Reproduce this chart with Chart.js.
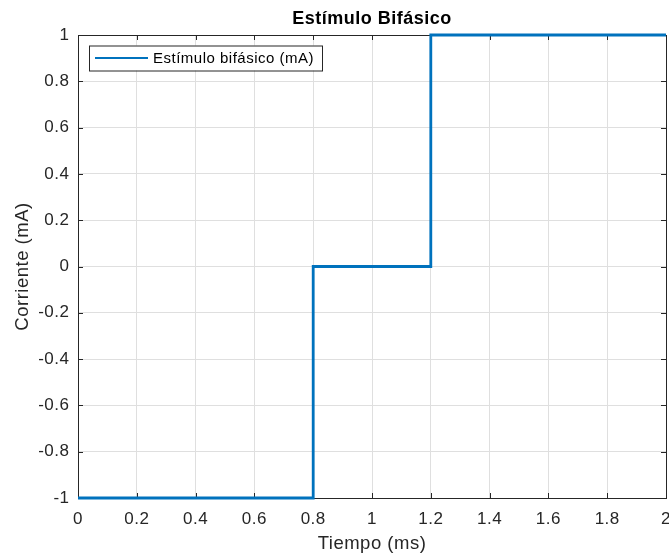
<!DOCTYPE html>
<html lang="es">
<head>
<meta charset="utf-8">
<title>Estímulo Bifásico</title>
<script src="https://cdn.jsdelivr.net/npm/chart.js@4.4.1/dist/chart.umd.min.js"></script>
<style>
  html, body { margin: 0; padding: 0; background: #fff; overflow: hidden; }
  canvas { display: block; }
</style>
</head>
<body>
<canvas id="estimulo" width="669" height="555"></canvas>
<script>
// Pulso bifásico: tiempo (ms) y corriente (mA) en cada cambio de nivel
const tiempo = [0, 0.8, 1.2, 2];
const corriente = [-1, 0, 1, 1];
const ticksX = [0, 0.2, 0.4, 0.6, 0.8, 1, 1.2, 1.4, 1.6, 1.8, 2];
const ticksY = [-1, -0.8, -0.6, -0.4, -0.2, 0, 0.2, 0.4, 0.6, 0.8, 1];

const ejeColor = '#262626', gridColor = '#dfdfdf', azul = '#0072bd';
const family = '"Liberation Sans", Arial, Helvetica, sans-serif';

// texto un poco más abierto, como en las figuras de MATLAB
const espaciado = {
  id: 'espaciado',
  beforeLayout(chart) { chart.ctx.letterSpacing = '0.5px'; },
  beforeDraw(chart) { chart.ctx.letterSpacing = '0.5px'; }
};

// caja de ejes con marcas hacia dentro
const cajaEjes = {
  id: 'cajaEjes',
  beforeDatasetsDraw(chart) {
    const { ctx, chartArea: a, scales: { x, y } } = chart;
    ctx.save();
    ctx.strokeStyle = ejeColor;
    ctx.lineWidth = 1;
    ctx.beginPath();
    x.ticks.forEach((t) => {
      const px = Math.round(x.getPixelForValue(t.value)) + 0.5;
      ctx.moveTo(px, a.bottom); ctx.lineTo(px, a.bottom - 5);
      ctx.moveTo(px, a.top); ctx.lineTo(px, a.top + 5);
    });
    y.ticks.forEach((t) => {
      const py = Math.round(y.getPixelForValue(t.value)) + 0.5;
      ctx.moveTo(a.left, py); ctx.lineTo(a.left + 5, py);
      ctx.moveTo(a.right, py); ctx.lineTo(a.right - 5, py);
    });
    ctx.stroke();
    ctx.strokeRect(a.left + 0.5, a.top + 0.5, a.right - a.left, a.bottom - a.top);
    ctx.restore();
  }
};

// leyenda dentro del área de trazado, arriba a la izquierda
const leyenda = {
  id: 'leyenda',
  afterDraw(chart) {
    const { ctx, chartArea: a } = chart;
    const ds = chart.data.datasets[0];
    const x0 = a.left + 11, y0 = a.top + 10.5, w = 233, h = 25;
    ctx.save();
    ctx.fillStyle = '#fff';
    ctx.fillRect(x0, y0, w, h);
    ctx.strokeStyle = ejeColor;
    ctx.lineWidth = 1;
    ctx.strokeRect(x0 + 0.5, y0 + 0.5, w, h);
    ctx.strokeStyle = ds.borderColor;
    ctx.lineWidth = 2.2;
    ctx.beginPath();
    ctx.moveTo(x0 + 6, y0 + 12.5);
    ctx.lineTo(x0 + 59, y0 + 12.5);
    ctx.stroke();
    ctx.fillStyle = '#000';
    ctx.font = '15px ' + family;
    ctx.textBaseline = 'middle';
    ctx.fillText(ds.label, x0 + 64, y0 + 13);
    ctx.restore();
  }
};

new Chart(document.getElementById('estimulo'), {
  type: 'line',
  data: {
    datasets: [{
      label: 'Estímulo bifásico (mA)',
      data: tiempo.map((t, i) => ({ x: t, y: corriente[i] })),
      borderColor: azul,
      borderWidth: 2.8,
      borderJoinStyle: 'miter',
      pointRadius: 0,
      stepped: true,
      fill: false,
      clip: false
    }]
  },
  options: {
    responsive: false,
    animation: false,
    layout: { padding: { left: 0, right: 3, top: 0, bottom: 0 } },
    plugins: {
      legend: { display: false },
      tooltip: { enabled: false },
      title: {
        display: true,
        text: 'Estímulo Bifásico',
        color: '#000',
        fullSize: false,
        font: { family, size: 18, weight: 'bold' },
        padding: { top: 8, bottom: 5.4 }
      }
    },
    scales: {
      x: {
        type: 'linear',
        min: 0,
        max: 2,
        afterBuildTicks: (s) => { s.ticks = ticksX.map((v) => ({ value: v })); },
        afterFit: (s) => { s.height = 57; s.paddingLeft = 0; s.paddingRight = 0; },
        grid: { color: gridColor, drawTicks: false },
        border: { display: false },
        ticks: { color: ejeColor, font: { family, size: 17 }, padding: 10.8, maxRotation: 0, autoSkip: false, callback: (v) => String(v) },
        title: { display: true, text: 'Tiempo (ms)', color: ejeColor, font: { family, size: 18.5 }, padding: { top: 0, bottom: 0.4 } }
      },
      y: {
        type: 'linear',
        min: -1,
        max: 1,
        afterBuildTicks: (s) => { s.ticks = ticksY.map((v) => ({ value: v })); },
        afterFit: (s) => { s.width = 78; s.paddingTop = 0; s.paddingBottom = 0; },
        grid: { color: gridColor, drawTicks: false },
        border: { display: false },
        ticks: { color: ejeColor, font: { family, size: 17 }, padding: 8.5, autoSkip: false, callback: (v) => String(v) },
        title: { display: true, text: 'Corriente (mA)', color: ejeColor, font: { family, size: 18.5 }, padding: { top: 11.9, bottom: 0 } }
      }
    }
  },
  plugins: [espaciado, cajaEjes, leyenda]
});
</script>
</body>
</html>
